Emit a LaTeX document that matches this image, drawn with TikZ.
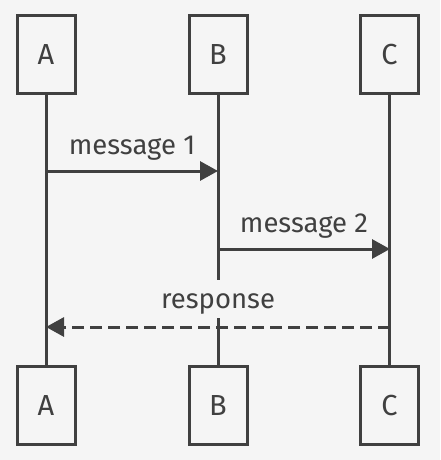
\documentclass[tikz,border=0pt]{standalone}
\usepackage{fontspec}
\setmainfont{Fira Sans}
\usetikzlibrary{arrows.meta}
\definecolor{bg}{HTML}{F5F5F5}
\definecolor{ink}{HTML}{404040}
\tikzset{
  actor/.style={draw=ink, line width=3pt, fill=bg, minimum width=58pt, minimum height=78pt, inner sep=0pt, text=ink, font=\fontsize{29}{30}\selectfont},
  lifeline/.style={draw=ink, line width=3pt},
  msg/.style={draw=ink, line width=3pt, -{Triangle[length=18pt,width=19pt]}},
  reply/.style={msg, dash pattern=on 12pt off 6pt},
  lbl/.style={text=ink, anchor=base, inner sep=0pt, font=\fontsize{27.5}{29}\selectfont},
}
\begin{document}
\begin{tikzpicture}[x=1pt,y=-1pt]
\useasboundingbox[fill=bg] (0,0) rectangle (440,460);
% actors
\node[actor] (At) at (46,54.5) {A};
\node[actor] (Bt) at (218,54.5) {B};
\node[actor] (Ct) at (389.5,54.5) {C};
\node[actor] (Ab) at (46,405.5) {A};
\node[actor] (Bb) at (218,405.5) {B};
\node[actor] (Cb) at (389.5,405.5) {C};
% lifelines
\draw[lifeline] (At) -- (Ab);
\draw[lifeline] (Bt) -- (Bb);
\draw[lifeline] (Ct) -- (Cb);
% message anchors
\coordinate (a1) at (46,171);
\coordinate (b1) at (218,171);
\coordinate (b2) at (218,249);
\coordinate (c2) at (390,249);
\coordinate (c3) at (390,327);
\coordinate (a3) at (46,327);
% labels
\node[lbl] (l1) at (132,154) {message 1};
\node[lbl] (l2) at (304,232) {message 2};
\node[lbl, fill=bg, text height=28pt, text depth=10pt] (l3) at (218,308) {response};
% messages
\draw[msg] (a1) -- (b1);
\draw[msg] (b2) -- (c2);
\draw[reply] (c3) -- (a3);
\end{tikzpicture}
\end{document}
